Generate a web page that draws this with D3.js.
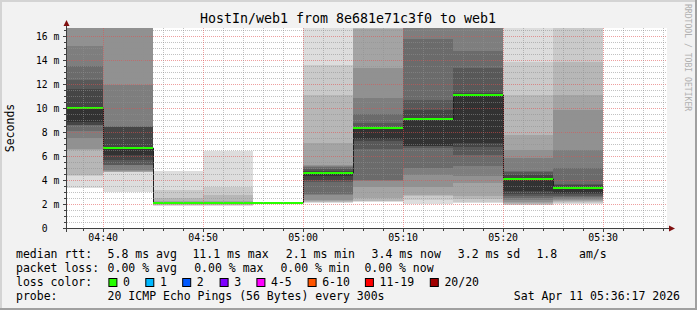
<!DOCTYPE html>
<html><head><meta charset="utf-8">
<script src="https://cdn.jsdelivr.net/npm/d3@7"></script>
<style>
html,body{margin:0;padding:0;background:#f2f2f2;}
svg{display:block;}
text{font-family:"DejaVu Sans Mono",monospace;white-space:pre;}
</style></head><body>
<svg id="c" width="697" height="310"></svg>
<script>
// ---------------- data ----------------
const titleText = "HostIn/web1 from 8e681e71c3f0 to web1";
const barStarts = ["04:35","04:40","04:45","04:50","04:55","05:00","05:05","05:10","05:15","05:20","05:25"];
const medians   = [10.07, 6.68, 2.15, 2.15, 2.15, 4.65, 8.4, 9.15, 11.15, 4.1, 3.4];
const lossPerBar = [0,0,0,0,0,0,0,0,0,0,0];
// 20 sorted ping round-trip times (ms) per 5-minute step
const smokePings = [
  [3.35,4.4,4.46,6.55,6.6,7.5,8.15,8.6,8.62,8.9,10.07,11.6,12.37,13.57,15.23,17,18,19,21,24],
  [3.07,4.7,4.73,4.75,4.8,4.9,5.28,5.3,5.7,6.1,6.68,8.48,8.5,8.52,12.0,17,18,19,21,24],
  [1.9,1.95,2.0,2.03,2.06,2.08,2.1,2.12,2.13,2.14,2.15,2.16,2.17,2.18,2.19,2.2,2.3,2.54,3.24,4.8],
  [1.9,1.95,2.0,2.03,2.06,2.08,2.1,2.12,2.13,2.14,2.15,2.16,2.17,2.18,2.19,2.2,2.3,2.8,3.5,6.5],
  [2.1,2.1,2.11,2.11,2.12,2.12,2.13,2.13,2.14,2.14,2.15,2.15,2.16,2.16,2.17,2.17,2.18,2.18,2.19,2.2],
  [2.12,2.18,2.22,2.3,2.4,2.8,2.85,3.9,4.04,4.35,4.65,4.8,5.0,5.15,5.2,5.3,7.1,11.1,13.6,18],
  [2.22,2.26,2.3,2.54,3.5,4.0,4.07,6.6,7.3,7.45,8.4,8.46,8.8,9.5,10.9,13.4,16.6,17.5,19,22],
  [2.07,2.4,2.7,2.8,3.5,4.5,5.04,6.7,6.85,6.9,9.15,9.9,10.7,15.8,17.0,18,19,20,22,25],
  [2.1,2.2,2.5,2.7,3.79,4.35,5.18,6.15,6.8,7.1,11.15,11.3,13.4,14.76,17,18,19,20,22,25],
  [1.93,1.98,2.05,2.12,2.25,2.4,2.55,2.68,2.9,3.1,4.1,4.5,4.7,4.76,5.87,6.57,7.8,11.15,13.9,17],
  [2.07,2.12,2.2,2.3,2.4,2.5,2.6,2.68,2.9,3.0,3.4,3.65,3.7,5.04,6.57,9.9,11.15,13.9,17,19]
];
const yMajorTicks = [0,2,4,6,8,10,12,14,16];
const yTickLabels = [" 0"," 2 m"," 4 m"," 6 m"," 8 m","10 m","12 m","14 m","16 m"];
const xTickLabels = ["04:40","04:50","05:00","05:10","05:20","05:30"];
const rttRow   = [["median rtt:",16],["5.8 ms avg",107.6],["11.1 ms max",192.4],["2.1 ms min",285.8],["3.4 ms now",371.6],["3.2 ms sd",457.8],["1.8",536.4],["am/s",579]];
const lossRow  = [["packet loss:",16],["0.00 % avg",107.6],["0.00 % max",194.2],["0.00 % min",280.4],["0.00 % now",364.4]];
const lossLabels = ["0","1","2","3","4-5","6-10","11-19","20/20"];
const lossColors = ["#26ff00","#00b8ff","#0059ff","#7e00ff","#ff00ff","#ff5500","#ff0000","#a10000"];
const lossBoxX   = [108.4,145.3,182.2,219.6,256.4,307.6,364.9,429.8];
const probeText = "20 ICMP Echo Pings (56 Bytes) every 300s";
const dateText = "Sat Apr 11 05:36:17 2026";

// ---------------- layout ----------------
const svg = d3.select("#c");
const PL = 66.5, PR = 666.5, PT = 28, PB = 228.5;
const T = (h,m,s=0) => new Date(2026,3,11,h,m,s);
const parseHM = d3.timeParse("%H:%M");
const toDate = s => { const d = parseHM(s); return T(d.getHours(), d.getMinutes()); };
const x = d3.scaleTime().domain([T(4,36,20), T(5,36,20)]).range([PL, PR]);
const y = d3.scaleLinear().domain([0,16.7]).range([PB, 28.1]);
const crisp = v => Math.floor(v) + 0.5;
const STEP = 5*60*1000;

// background and frame
svg.append("rect").attr("width",697).attr("height",310).attr("fill","#f2f2f2");
svg.append("rect").attr("x",0).attr("y",0).attr("width",697).attr("height",2).attr("fill","#d4d4d4");
svg.append("rect").attr("x",0).attr("y",0).attr("width",2).attr("height",310).attr("fill","#d4d4d4");
svg.append("rect").attr("x",0).attr("y",308).attr("width",697).attr("height",2).attr("fill","#a0a0a0");
svg.append("rect").attr("x",695).attr("y",0).attr("width",2).attr("height",310).attr("fill","#a0a0a0");

// canvas
svg.append("rect").attr("x",67).attr("y",PT).attr("width",600).attr("height",PB-PT).attr("fill","#ffffff");
svg.append("clipPath").attr("id","pc").append("rect").attr("x",67).attr("y",PT).attr("width",600).attr("height",PB-PT);
const plot = svg.append("g").attr("clip-path","url(#pc)");

// smoke
const shade = i => { const c = Math.floor(190/10*(10-i)) + 50; return d3.rgb(c,c,c).formatHex(); };
barStarts.forEach((s,b) => {
  const t0 = toDate(s), t1 = new Date(+t0 + STEP);
  const p = smokePings[b].slice().sort((a,c)=>a-c);
  for (let i = 1; i <= 10; i++) {
    const lo = p[i-1], hi = p[20-i];
    const x0 = Math.round(x(t0)), x1 = Math.round(x(t1));
    const yt = Math.round(y(hi)), yb = Math.round(y(lo));
    plot.append("rect").attr("x",x0).attr("width",x1-x0)
      .attr("y",yt).attr("height",Math.max(0,yb-yt)).attr("fill",shade(i));
  }
});

// median black step line
const medPts = barStarts.map((s,b)=>[toDate(s), medians[b]]);
medPts.push([new Date(+toDate(barStarts[barStarts.length-1]) + STEP), medians[medians.length-1]]);
plot.append("path").datum(medPts)
  .attr("d", d3.line().x(d=>Math.round(x(d[0]))+0.5).y(d=>Math.round(y(d[1]))).curve(d3.curveStepAfter))
  .attr("fill","none").attr("stroke","#202020").attr("stroke-width",1);

// median loss-colored slabs
barStarts.forEach((s,b) => {
  const t0 = toDate(s), t1 = new Date(+t0 + STEP);
  const x0 = Math.round(x(t0)), x1 = Math.round(x(t1));
  const ym = Math.round(y(medians[b]));
  plot.append("rect").attr("x",x0).attr("width",x1-x0).attr("y",ym-1).attr("height",2)
    .attr("fill", lossColors[lossPerBar[b]]);
});

// grid
const grid = svg.append("g");
const minorY = d3.range(0.5, 16.7, 0.5).filter(v => Math.abs(v/2 - Math.round(v/2)) > 1e-6);
minorY.forEach(v => grid.append("line").attr("x1",67).attr("x2",667).attr("y1",crisp(y(v))).attr("y2",crisp(y(v)))
  .attr("stroke","#909090").attr("stroke-opacity",0.55).attr("stroke-dasharray","1,1"));
yMajorTicks.filter(v=>v>0).forEach(v => grid.append("line").attr("x1",67).attr("x2",667).attr("y1",crisp(y(v))).attr("y2",crisp(y(v)))
  .attr("stroke","#e05050").attr("stroke-opacity",0.55).attr("stroke-dasharray","1,1"));
const minorX = d3.timeMinute.every(2).range(T(4,37), T(5,36,21)).filter(d => d.getMinutes() % 10 !== 0);
const majorX = d3.timeMinute.every(10).range(T(4,37), T(5,36,21));
minorX.forEach(d => grid.append("line").attr("x1",crisp(x(d))).attr("x2",crisp(x(d))).attr("y1",PT).attr("y2",PB)
  .attr("stroke","#909090").attr("stroke-opacity",0.55).attr("stroke-dasharray","1,1"));
majorX.forEach(d => grid.append("line").attr("x1",crisp(x(d))).attr("x2",crisp(x(d))).attr("y1",PT).attr("y2",PB)
  .attr("stroke","#e05050").attr("stroke-opacity",0.55).attr("stroke-dasharray","1,1"));

// axes
const ax = svg.append("g");
ax.append("line").attr("x1",63).attr("x2",670).attr("y1",228.5).attr("y2",228.5).attr("stroke","#404040");
ax.append("line").attr("x1",66.5).attr("x2",66.5).attr("y1",232).attr("y2",24).attr("stroke","#404040");
// ticks
minorX.forEach(d => ax.append("line").attr("x1",crisp(x(d))).attr("x2",crisp(x(d))).attr("y1",229).attr("y2",231).attr("stroke","#404040"));
majorX.forEach(d => ax.append("line").attr("x1",crisp(x(d))).attr("x2",crisp(x(d))).attr("y1",229).attr("y2",232).attr("stroke","#404040"));
minorY.forEach(v => ax.append("line").attr("x1",64).attr("x2",66).attr("y1",crisp(y(v))).attr("y2",crisp(y(v))).attr("stroke","#404040"));
yMajorTicks.forEach(v => ax.append("line").attr("x1",63).attr("x2",66).attr("y1",crisp(y(v))).attr("y2",crisp(y(v))).attr("stroke","#404040"));
// arrows
ax.append("path").attr("d","M669,225.5 L675,228.5 L669,231.5 Z").attr("fill","#801010");
ax.append("path").attr("d","M63.5,26 L66.5,20 L69.5,26 Z").attr("fill","#801010");

// tick labels
yMajorTicks.forEach((v,i) => ax.append("text").attr("x",36).attr("y",crisp(y(v))+3.5)
  .attr("font-size","9.7px").attr("fill","#000").text(yTickLabels[i]));
majorX.forEach((d,i) => ax.append("text").attr("x",x(d)).attr("y",241).attr("text-anchor","middle")
  .attr("font-size","9.9px").attr("fill","#000").text(xTickLabels[i]));

// titles
svg.append("text").attr("x",348).attr("y",23).attr("text-anchor","middle").attr("font-size","13.3px").attr("fill","#000").text(titleText);
svg.append("text").attr("transform","translate(14,128) rotate(-90)").attr("text-anchor","middle")
  .attr("font-size","11.5px").attr("fill","#000").text("Seconds");
svg.append("text").attr("transform","translate(685,4) rotate(90)").attr("font-size","8.1px").attr("fill","#b0b0b0")
  .text("RRDTOOL / TOBI OETIKER");

// legend
const lg = svg.append("g").attr("font-size","11.5px").attr("fill","#000");
rttRow.forEach(([t,px]) => lg.append("text").attr("x",px).attr("y",257.5).text(t));
lossRow.forEach(([t,px]) => lg.append("text").attr("x",px).attr("y",272.3).text(t));
lg.append("text").attr("x",16).attr("y",286.3).text("loss color:");
lossLabels.forEach((t,i) => {
  lg.append("rect").attr("x",lossBoxX[i]+0.5).attr("y",278.5).attr("width",8).attr("height",8)
    .attr("fill",lossColors[i]).attr("stroke","#000").attr("stroke-width",1);
  lg.append("text").attr("x",lossBoxX[i]+14.6).attr("y",286.3).text(t);
});
lg.append("text").attr("x",16).attr("y",300.3).text("probe:");
lg.append("text").attr("x",107.6).attr("y",300.3).text(probeText);
lg.append("text").attr("x",680).attr("y",300.3).attr("text-anchor","end").text(dateText);
</script>
</body></html>
